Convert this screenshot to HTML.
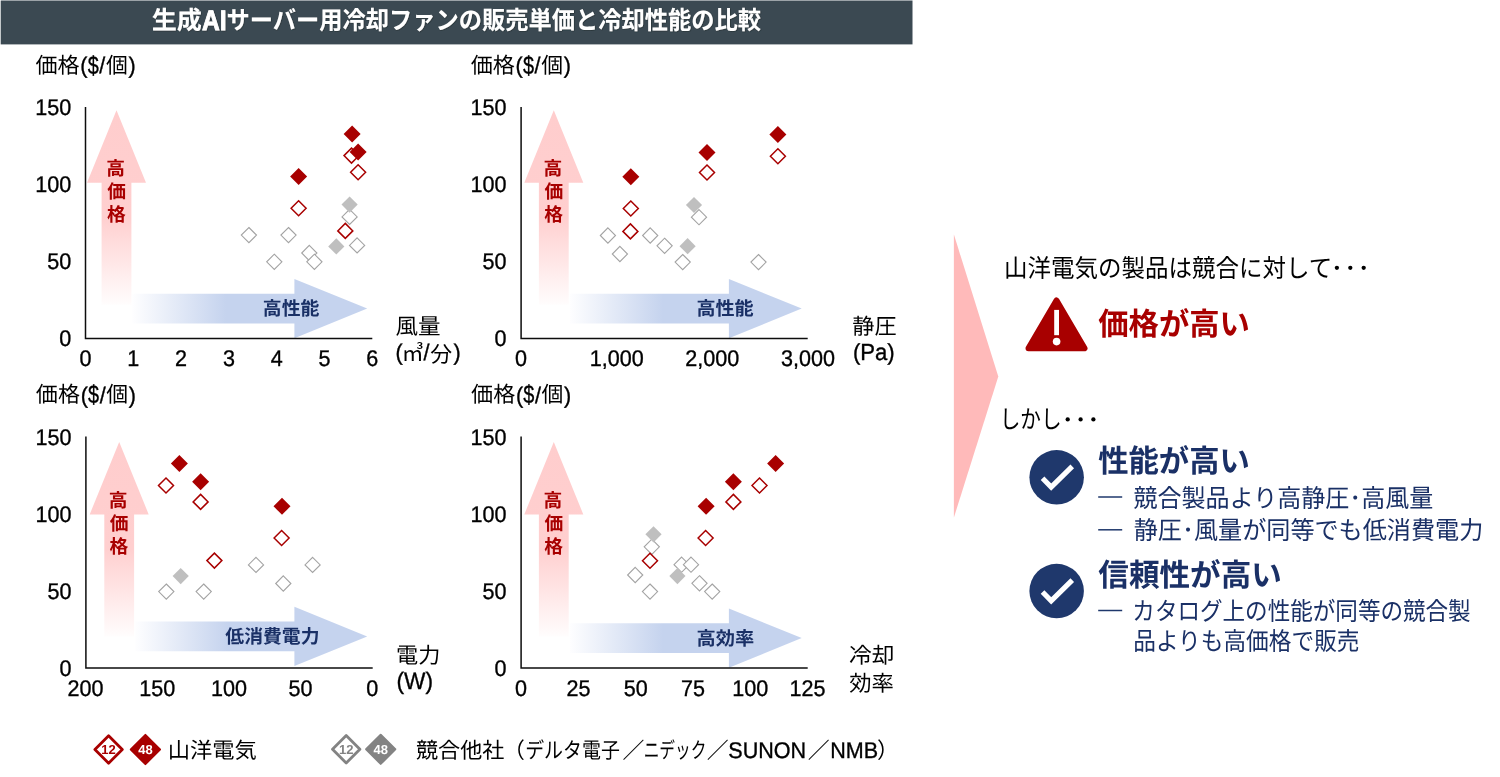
<!DOCTYPE html>
<html lang="ja"><head><meta charset="utf-8"><title>生成AIサーバー用冷却ファンの販売単価と冷却性能の比較</title>
<style>
html,body{margin:0;padding:0;background:#fff}
body{width:1500px;height:777px;overflow:hidden;font-family:"Liberation Sans","Noto Sans CJK JP",sans-serif}
svg{display:block;position:absolute;left:0;top:0;will-change:transform}
svg text{font-family:"Liberation Sans","Noto Sans CJK JP",sans-serif;white-space:pre;text-rendering:geometricPrecision}
</style></head><body>
<svg width="1500" height="777" viewBox="0 0 1500 777">
<defs>
<filter id="sh" x="-5%" y="-20%" width="110%" height="140%"><feDropShadow dx=".5" dy=".5" stdDeviation=".6" flood-color="#1c252c" flood-opacity=".9"/></filter>
<linearGradient id="gu1" gradientUnits="userSpaceOnUse" x1="0" y1="110.2" x2="0" y2="304.8"><stop offset="0" stop-color="#ffcdcd"/><stop offset=".55" stop-color="#ffcfcf"/><stop offset="1" stop-color="#fffdfd"/></linearGradient>
<linearGradient id="gu2" gradientUnits="userSpaceOnUse" x1="0" y1="110.2" x2="0" y2="304.8"><stop offset="0" stop-color="#ffcdcd"/><stop offset=".55" stop-color="#ffcfcf"/><stop offset="1" stop-color="#fffdfd"/></linearGradient>
<linearGradient id="gu3" gradientUnits="userSpaceOnUse" x1="0" y1="441.9" x2="0" y2="636.5"><stop offset="0" stop-color="#ffcdcd"/><stop offset=".55" stop-color="#ffcfcf"/><stop offset="1" stop-color="#fffdfd"/></linearGradient>
<linearGradient id="gu4" gradientUnits="userSpaceOnUse" x1="0" y1="441.9" x2="0" y2="636.5"><stop offset="0" stop-color="#ffcdcd"/><stop offset=".55" stop-color="#ffcfcf"/><stop offset="1" stop-color="#fffdfd"/></linearGradient>
<linearGradient id="gr1" gradientUnits="userSpaceOnUse" x1="132.4" y1="0" x2="226" y2="0"><stop offset="0" stop-color="#fefeff"/><stop offset="1" stop-color="#c5d3ee"/></linearGradient>
<linearGradient id="gr2" gradientUnits="userSpaceOnUse" x1="569.6" y1="0" x2="663" y2="0"><stop offset="0" stop-color="#fefeff"/><stop offset="1" stop-color="#c5d3ee"/></linearGradient>
<linearGradient id="gr3" gradientUnits="userSpaceOnUse" x1="135.1" y1="0" x2="228" y2="0"><stop offset="0" stop-color="#fefeff"/><stop offset="1" stop-color="#c5d3ee"/></linearGradient>
<linearGradient id="gr4" gradientUnits="userSpaceOnUse" x1="569.6" y1="0" x2="663" y2="0"><stop offset="0" stop-color="#fefeff"/><stop offset="1" stop-color="#c5d3ee"/></linearGradient>
</defs>
<rect x="0.7" y="0.5" width="911.8" height="43.9" fill="#3b4952"/>
<g filter="url(#sh)">
<g fill="#fff">
<text x="151.65" y="29.41" font-size="25" font-weight="bold" textLength="50.2" lengthAdjust="spacingAndGlyphs">生成</text>
<text x="232.17 252.54" y="29.81" font-size="28.2" font-weight="bold" transform="scale(0.87 1)" stroke="#fff" stroke-width="0.9">AI</text>
<text x="226.52" y="29.41" font-size="25" font-weight="bold" textLength="534.5" lengthAdjust="spacingAndGlyphs">サーバー用冷却ファンの販売単価と冷却性能の比較</text>
</g>
</g>
<path d="M116.5 110.2L146 182.7H131.4V304.8H101.6V182.7H87z" fill="url(#gu1)"/>
<path d="M132.4 293.8H294.4V278.9L367.2 308.6L294.4 338.3V323.4H132.4z" fill="url(#gr1)"/>
<path d="M85.5 107.1V338.4H372.3" fill="none" stroke="#0d0d0d" stroke-width="1.5"/>
<text transform="translate(71.2 115) scale(0.95 1)" font-size="22.7" fill="#000" text-anchor="end" stroke="#000" stroke-width=".35">150</text>
<text transform="translate(71.2 192.1) scale(0.95 1)" font-size="22.7" fill="#000" text-anchor="end" stroke="#000" stroke-width=".35">100</text>
<text transform="translate(71.2 269.2) scale(0.95 1)" font-size="22.7" fill="#000" text-anchor="end" stroke="#000" stroke-width=".35">50</text>
<text transform="translate(71.2 346.3) scale(0.95 1)" font-size="22.7" fill="#000" text-anchor="end" stroke="#000" stroke-width=".35">0</text>
<text transform="translate(85.5 366) scale(0.95 1)" font-size="22.7" fill="#000" text-anchor="middle" stroke="#000" stroke-width=".35">0</text>
<text transform="translate(133.3 366) scale(0.95 1)" font-size="22.7" fill="#000" text-anchor="middle" stroke="#000" stroke-width=".35">1</text>
<text transform="translate(181.1 366) scale(0.95 1)" font-size="22.7" fill="#000" text-anchor="middle" stroke="#000" stroke-width=".35">2</text>
<text transform="translate(228.9 366) scale(0.95 1)" font-size="22.7" fill="#000" text-anchor="middle" stroke="#000" stroke-width=".35">3</text>
<text transform="translate(276.7 366) scale(0.95 1)" font-size="22.7" fill="#000" text-anchor="middle" stroke="#000" stroke-width=".35">4</text>
<text transform="translate(324.5 366) scale(0.95 1)" font-size="22.7" fill="#000" text-anchor="middle" stroke="#000" stroke-width=".35">5</text>
<text transform="translate(372.3 366) scale(0.95 1)" font-size="22.7" fill="#000" text-anchor="middle" stroke="#000" stroke-width=".35">6</text>
<path d="M248.9 227.5l7.6 7.6l-7.6 7.6l-7.6 -7.6z" fill="#fff" stroke="#a3a3a3" stroke-width="1.1"/>
<path d="M288.5 227.5l7.6 7.6l-7.6 7.6l-7.6 -7.6z" fill="#fff" stroke="#a3a3a3" stroke-width="1.1"/>
<path d="M274.3 254.2l7.6 7.6l-7.6 7.6l-7.6 -7.6z" fill="#fff" stroke="#a3a3a3" stroke-width="1.1"/>
<path d="M309.3 245.4l7.6 7.6l-7.6 7.6l-7.6 -7.6z" fill="#fff" stroke="#a3a3a3" stroke-width="1.1"/>
<path d="M314.4 254.2l7.6 7.6l-7.6 7.6l-7.6 -7.6z" fill="#fff" stroke="#a3a3a3" stroke-width="1.1"/>
<path d="M357.1 237.8l7.6 7.6l-7.6 7.6l-7.6 -7.6z" fill="#fff" stroke="#a3a3a3" stroke-width="1.1"/>
<path d="M349.6 209.3l7.6 7.6l-7.6 7.6l-7.6 -7.6z" fill="#fff" stroke="#a3a3a3" stroke-width="1.1"/>
<path d="M349.6 196.5l8.1 8.1l-8.1 8.1l-8.1 -8.1z" fill="#bfbfbf"/>
<path d="M336.3 238.3l8.1 8.1l-8.1 8.1l-8.1 -8.1z" fill="#bfbfbf"/>
<path d="M345.3 223.4l7.5 7.5l-7.5 7.5l-7.5 -7.5z" fill="#fff" stroke="#a80000" stroke-width="1.5"/>
<path d="M298.6 200.8l7.5 7.5l-7.5 7.5l-7.5 -7.5z" fill="#fff" stroke="#a80000" stroke-width="1.5"/>
<path d="M358.1 164.8l7.5 7.5l-7.5 7.5l-7.5 -7.5z" fill="#fff" stroke="#a80000" stroke-width="1.5"/>
<path d="M351.5 148.1l7.5 7.5l-7.5 7.5l-7.5 -7.5z" fill="#fff" stroke="#a80000" stroke-width="1.5"/>
<path d="M298.6 168l8.5 8.5l-8.5 8.5l-8.5 -8.5z" fill="#a80000"/>
<path d="M358.1 143.6l8.5 8.5l-8.5 8.5l-8.5 -8.5z" fill="#a80000"/>
<path d="M352.1 125.4l8.5 8.5l-8.5 8.5l-8.5 -8.5z" fill="#a80000"/>
<g fill="#a80000">
<text x="106.26" y="175.21" font-size="18.75" font-weight="bold">高</text>
</g>
<g fill="#a80000">
<text x="107.17" y="198.21" font-size="18.75" font-weight="bold">価</text>
</g>
<g fill="#a80000">
<text x="107.01" y="220.71" font-size="18.75" font-weight="bold">格</text>
</g>
<g fill="#1a3066">
<text x="262.86" y="315.11" font-size="18.75" font-weight="bold" textLength="56.55" lengthAdjust="spacingAndGlyphs">高性能</text>
</g>
<path d="M553.8 110.2L583.3 182.7H568.7V304.8H538.9V182.7H524.3z" fill="url(#gu2)"/>
<path d="M569.6 293.8H728.9V278.9L801.7 308.6L728.9 338.3V323.4H569.6z" fill="url(#gr2)"/>
<path d="M521.1 107.1V338.4H807.7" fill="none" stroke="#0d0d0d" stroke-width="1.5"/>
<text transform="translate(506.5 115) scale(0.95 1)" font-size="22.7" fill="#000" text-anchor="end" stroke="#000" stroke-width=".35">150</text>
<text transform="translate(506.5 192.1) scale(0.95 1)" font-size="22.7" fill="#000" text-anchor="end" stroke="#000" stroke-width=".35">100</text>
<text transform="translate(506.5 269.2) scale(0.95 1)" font-size="22.7" fill="#000" text-anchor="end" stroke="#000" stroke-width=".35">50</text>
<text transform="translate(506.5 346.3) scale(0.95 1)" font-size="22.7" fill="#000" text-anchor="end" stroke="#000" stroke-width=".35">0</text>
<text transform="translate(521.1 366) scale(0.95 1)" font-size="22.7" fill="#000" text-anchor="middle" stroke="#000" stroke-width=".35">0</text>
<text transform="translate(616.7 366) scale(0.95 1)" font-size="22.7" fill="#000" text-anchor="middle" stroke="#000" stroke-width=".35">1,000</text>
<text transform="translate(712.3 366) scale(0.95 1)" font-size="22.7" fill="#000" text-anchor="middle" stroke="#000" stroke-width=".35">2,000</text>
<text transform="translate(807.9 366) scale(0.95 1)" font-size="22.7" fill="#000" text-anchor="middle" stroke="#000" stroke-width=".35">3,000</text>
<path d="M607.9 227.9l7.6 7.6l-7.6 7.6l-7.6 -7.6z" fill="#fff" stroke="#a3a3a3" stroke-width="1.1"/>
<path d="M650.2 227.9l7.6 7.6l-7.6 7.6l-7.6 -7.6z" fill="#fff" stroke="#a3a3a3" stroke-width="1.1"/>
<path d="M664.6 238.2l7.6 7.6l-7.6 7.6l-7.6 -7.6z" fill="#fff" stroke="#a3a3a3" stroke-width="1.1"/>
<path d="M619.9 246.4l7.6 7.6l-7.6 7.6l-7.6 -7.6z" fill="#fff" stroke="#a3a3a3" stroke-width="1.1"/>
<path d="M682.7 254.5l7.6 7.6l-7.6 7.6l-7.6 -7.6z" fill="#fff" stroke="#a3a3a3" stroke-width="1.1"/>
<path d="M758.5 254.5l7.6 7.6l-7.6 7.6l-7.6 -7.6z" fill="#fff" stroke="#a3a3a3" stroke-width="1.1"/>
<path d="M694 196.9l8.1 8.1l-8.1 8.1l-8.1 -8.1z" fill="#bfbfbf"/>
<path d="M699 209.6l7.6 7.6l-7.6 7.6l-7.6 -7.6z" fill="#fff" stroke="#a3a3a3" stroke-width="1.1"/>
<path d="M687.6 238.1l8.1 8.1l-8.1 8.1l-8.1 -8.1z" fill="#bfbfbf"/>
<path d="M630.4 223.9l7.5 7.5l-7.5 7.5l-7.5 -7.5z" fill="#fff" stroke="#a80000" stroke-width="1.5"/>
<path d="M630.8 201l7.5 7.5l-7.5 7.5l-7.5 -7.5z" fill="#fff" stroke="#a80000" stroke-width="1.5"/>
<path d="M707 165l7.5 7.5l-7.5 7.5l-7.5 -7.5z" fill="#fff" stroke="#a80000" stroke-width="1.5"/>
<path d="M777.9 148.7l7.5 7.5l-7.5 7.5l-7.5 -7.5z" fill="#fff" stroke="#a80000" stroke-width="1.5"/>
<path d="M630.8 168.3l8.5 8.5l-8.5 8.5l-8.5 -8.5z" fill="#a80000"/>
<path d="M707 144l8.5 8.5l-8.5 8.5l-8.5 -8.5z" fill="#a80000"/>
<path d="M777.9 125.9l8.5 8.5l-8.5 8.5l-8.5 -8.5z" fill="#a80000"/>
<g fill="#a80000">
<text x="543.56" y="175.21" font-size="18.75" font-weight="bold">高</text>
</g>
<g fill="#a80000">
<text x="544.48" y="198.21" font-size="18.75" font-weight="bold">価</text>
</g>
<g fill="#a80000">
<text x="544.31" y="220.71" font-size="18.75" font-weight="bold">格</text>
</g>
<g fill="#1a3066">
<text x="696.46" y="315.11" font-size="18.75" font-weight="bold" textLength="57.25" lengthAdjust="spacingAndGlyphs">高性能</text>
</g>
<path d="M119.2 441.9L148.7 514.4H134.1V636.5H104.3V514.4H89.7z" fill="url(#gu3)"/>
<path d="M135.1 621.6H294.4V606.7L367.2 636.4L294.4 666.1V651.2H135.1z" fill="url(#gr3)"/>
<path d="M85.9 436.6V667.9H372.7" fill="none" stroke="#0d0d0d" stroke-width="1.5"/>
<text transform="translate(71.4 444.5) scale(0.95 1)" font-size="22.7" fill="#000" text-anchor="end" stroke="#000" stroke-width=".35">150</text>
<text transform="translate(71.4 521.6) scale(0.95 1)" font-size="22.7" fill="#000" text-anchor="end" stroke="#000" stroke-width=".35">100</text>
<text transform="translate(71.4 598.7) scale(0.95 1)" font-size="22.7" fill="#000" text-anchor="end" stroke="#000" stroke-width=".35">50</text>
<text transform="translate(71.4 675.8) scale(0.95 1)" font-size="22.7" fill="#000" text-anchor="end" stroke="#000" stroke-width=".35">0</text>
<text transform="translate(85.5 696.4) scale(0.95 1)" font-size="22.7" fill="#000" text-anchor="middle" stroke="#000" stroke-width=".35">200</text>
<text transform="translate(157.2 696.4) scale(0.95 1)" font-size="22.7" fill="#000" text-anchor="middle" stroke="#000" stroke-width=".35">150</text>
<text transform="translate(228.9 696.4) scale(0.95 1)" font-size="22.7" fill="#000" text-anchor="middle" stroke="#000" stroke-width=".35">100</text>
<text transform="translate(300.6 696.4) scale(0.95 1)" font-size="22.7" fill="#000" text-anchor="middle" stroke="#000" stroke-width=".35">50</text>
<text transform="translate(372.3 696.4) scale(0.95 1)" font-size="22.7" fill="#000" text-anchor="middle" stroke="#000" stroke-width=".35">0</text>
<path d="M256 557.3l7.6 7.6l-7.6 7.6l-7.6 -7.6z" fill="#fff" stroke="#a3a3a3" stroke-width="1.1"/>
<path d="M312.6 557.3l7.6 7.6l-7.6 7.6l-7.6 -7.6z" fill="#fff" stroke="#a3a3a3" stroke-width="1.1"/>
<path d="M283.3 575.9l7.6 7.6l-7.6 7.6l-7.6 -7.6z" fill="#fff" stroke="#a3a3a3" stroke-width="1.1"/>
<path d="M166.3 584l7.6 7.6l-7.6 7.6l-7.6 -7.6z" fill="#fff" stroke="#a3a3a3" stroke-width="1.1"/>
<path d="M203.7 584l7.6 7.6l-7.6 7.6l-7.6 -7.6z" fill="#fff" stroke="#a3a3a3" stroke-width="1.1"/>
<path d="M180.7 568l8.1 8.1l-8.1 8.1l-8.1 -8.1z" fill="#bfbfbf"/>
<path d="M214.4 553.1l7.5 7.5l-7.5 7.5l-7.5 -7.5z" fill="#fff" stroke="#a80000" stroke-width="1.5"/>
<path d="M281.6 530.5l7.5 7.5l-7.5 7.5l-7.5 -7.5z" fill="#fff" stroke="#a80000" stroke-width="1.5"/>
<path d="M200.6 494.4l7.5 7.5l-7.5 7.5l-7.5 -7.5z" fill="#fff" stroke="#a80000" stroke-width="1.5"/>
<path d="M166 478l7.5 7.5l-7.5 7.5l-7.5 -7.5z" fill="#fff" stroke="#a80000" stroke-width="1.5"/>
<path d="M282 497.8l8.5 8.5l-8.5 8.5l-8.5 -8.5z" fill="#a80000"/>
<path d="M200.6 473.3l8.5 8.5l-8.5 8.5l-8.5 -8.5z" fill="#a80000"/>
<path d="M179.4 454.9l8.5 8.5l-8.5 8.5l-8.5 -8.5z" fill="#a80000"/>
<g fill="#a80000">
<text x="108.86" y="507.01" font-size="18.75" font-weight="bold">高</text>
</g>
<g fill="#a80000">
<text x="109.78" y="530.01" font-size="18.75" font-weight="bold">価</text>
</g>
<g fill="#a80000">
<text x="109.61" y="552.51" font-size="18.75" font-weight="bold">格</text>
</g>
<g fill="#1a3066">
<text x="225.33" y="642.91" font-size="18.75" font-weight="bold" textLength="94.13" lengthAdjust="spacingAndGlyphs">低消費電力</text>
</g>
<path d="M553.8 441.9L583.3 514.4H568.7V636.5H538.9V514.4H524.3z" fill="url(#gu4)"/>
<path d="M569.6 623.3H728.9V608.4L801.7 638.1L728.9 667.8V652.9H569.6z" fill="url(#gr4)"/>
<path d="M521.1 436.6V667.9H807.7" fill="none" stroke="#0d0d0d" stroke-width="1.5"/>
<text transform="translate(506.5 444.5) scale(0.95 1)" font-size="22.7" fill="#000" text-anchor="end" stroke="#000" stroke-width=".35">150</text>
<text transform="translate(506.5 521.6) scale(0.95 1)" font-size="22.7" fill="#000" text-anchor="end" stroke="#000" stroke-width=".35">100</text>
<text transform="translate(506.5 598.7) scale(0.95 1)" font-size="22.7" fill="#000" text-anchor="end" stroke="#000" stroke-width=".35">50</text>
<text transform="translate(506.5 675.8) scale(0.95 1)" font-size="22.7" fill="#000" text-anchor="end" stroke="#000" stroke-width=".35">0</text>
<text transform="translate(521.1 696.4) scale(0.95 1)" font-size="22.7" fill="#000" text-anchor="middle" stroke="#000" stroke-width=".35">0</text>
<text transform="translate(578.4 696.4) scale(0.95 1)" font-size="22.7" fill="#000" text-anchor="middle" stroke="#000" stroke-width=".35">25</text>
<text transform="translate(635.7 696.4) scale(0.95 1)" font-size="22.7" fill="#000" text-anchor="middle" stroke="#000" stroke-width=".35">50</text>
<text transform="translate(693 696.4) scale(0.95 1)" font-size="22.7" fill="#000" text-anchor="middle" stroke="#000" stroke-width=".35">75</text>
<text transform="translate(750.3 696.4) scale(0.95 1)" font-size="22.7" fill="#000" text-anchor="middle" stroke="#000" stroke-width=".35">100</text>
<text transform="translate(807.6 696.4) scale(0.95 1)" font-size="22.7" fill="#000" text-anchor="middle" stroke="#000" stroke-width=".35">125</text>
<path d="M651.8 539.2l7.6 7.6l-7.6 7.6l-7.6 -7.6z" fill="#fff" stroke="#a3a3a3" stroke-width="1.1"/>
<path d="M653.5 526.2l8.1 8.1l-8.1 8.1l-8.1 -8.1z" fill="#bfbfbf"/>
<path d="M681.6 557.1l7.6 7.6l-7.6 7.6l-7.6 -7.6z" fill="#fff" stroke="#a3a3a3" stroke-width="1.1"/>
<path d="M691 557.1l7.6 7.6l-7.6 7.6l-7.6 -7.6z" fill="#fff" stroke="#a3a3a3" stroke-width="1.1"/>
<path d="M635.2 567.4l7.6 7.6l-7.6 7.6l-7.6 -7.6z" fill="#fff" stroke="#a3a3a3" stroke-width="1.1"/>
<path d="M699.5 575.7l7.6 7.6l-7.6 7.6l-7.6 -7.6z" fill="#fff" stroke="#a3a3a3" stroke-width="1.1"/>
<path d="M650 584l7.6 7.6l-7.6 7.6l-7.6 -7.6z" fill="#fff" stroke="#a3a3a3" stroke-width="1.1"/>
<path d="M712.2 584l7.6 7.6l-7.6 7.6l-7.6 -7.6z" fill="#fff" stroke="#a3a3a3" stroke-width="1.1"/>
<path d="M677.4 568l8.1 8.1l-8.1 8.1l-8.1 -8.1z" fill="#bfbfbf"/>
<path d="M650 553.3l7.5 7.5l-7.5 7.5l-7.5 -7.5z" fill="#fff" stroke="#a80000" stroke-width="1.5"/>
<path d="M705.6 530.5l7.5 7.5l-7.5 7.5l-7.5 -7.5z" fill="#fff" stroke="#a80000" stroke-width="1.5"/>
<path d="M733.4 494.4l7.5 7.5l-7.5 7.5l-7.5 -7.5z" fill="#fff" stroke="#a80000" stroke-width="1.5"/>
<path d="M759.5 478l7.5 7.5l-7.5 7.5l-7.5 -7.5z" fill="#fff" stroke="#a80000" stroke-width="1.5"/>
<path d="M706.1 497.8l8.5 8.5l-8.5 8.5l-8.5 -8.5z" fill="#a80000"/>
<path d="M733.4 473.3l8.5 8.5l-8.5 8.5l-8.5 -8.5z" fill="#a80000"/>
<path d="M775.6 454.9l8.5 8.5l-8.5 8.5l-8.5 -8.5z" fill="#a80000"/>
<g fill="#a80000">
<text x="543.56" y="507.01" font-size="18.75" font-weight="bold">高</text>
</g>
<g fill="#a80000">
<text x="544.48" y="530.01" font-size="18.75" font-weight="bold">価</text>
</g>
<g fill="#a80000">
<text x="544.31" y="552.51" font-size="18.75" font-weight="bold">格</text>
</g>
<g fill="#1a3066">
<text x="696.46" y="645.11" font-size="18.75" font-weight="bold" textLength="57.67" lengthAdjust="spacingAndGlyphs">高効率</text>
</g>
<g fill="#000">
<text x="35.48" y="72.78" font-size="21.88" textLength="44.14" lengthAdjust="spacingAndGlyphs">価格</text>
</g>
<text transform="translate(80.3 73.1) scale(0.95 1)" font-size="22.7" fill="#000" stroke="#000" stroke-width=".35">(</text>
<text transform="translate(87.7 73.6) scale(0.78 1)" font-size="25.5" fill="#000" stroke="#000" stroke-width=".35">$</text>
<text transform="translate(99.3 73.1) scale(0.95 1)" font-size="22.7" fill="#000" stroke="#000" stroke-width=".35">/</text>
<g fill="#000">
<text x="105.93" y="72.78" font-size="21.88">個</text>
</g>
<text transform="translate(128.4 73.1) scale(0.95 1)" font-size="22.7" fill="#000" stroke="#000" stroke-width=".35">)</text>
<g fill="#000">
<text x="470.78" y="72.78" font-size="21.88" textLength="44.14" lengthAdjust="spacingAndGlyphs">価格</text>
</g>
<text transform="translate(515.6 73.1) scale(0.95 1)" font-size="22.7" fill="#000" stroke="#000" stroke-width=".35">(</text>
<text transform="translate(523 73.6) scale(0.78 1)" font-size="25.5" fill="#000" stroke="#000" stroke-width=".35">$</text>
<text transform="translate(534.6 73.1) scale(0.95 1)" font-size="22.7" fill="#000" stroke="#000" stroke-width=".35">/</text>
<g fill="#000">
<text x="541.23" y="72.78" font-size="21.88">個</text>
</g>
<text transform="translate(563.7 73.1) scale(0.95 1)" font-size="22.7" fill="#000" stroke="#000" stroke-width=".35">)</text>
<g fill="#000">
<text x="35.88" y="402.28" font-size="21.88" textLength="44.14" lengthAdjust="spacingAndGlyphs">価格</text>
</g>
<text transform="translate(80.7 402.6) scale(0.95 1)" font-size="22.7" fill="#000" stroke="#000" stroke-width=".35">(</text>
<text transform="translate(88.1 403.1) scale(0.78 1)" font-size="25.5" fill="#000" stroke="#000" stroke-width=".35">$</text>
<text transform="translate(99.7 402.6) scale(0.95 1)" font-size="22.7" fill="#000" stroke="#000" stroke-width=".35">/</text>
<g fill="#000">
<text x="106.33" y="402.28" font-size="21.88">個</text>
</g>
<text transform="translate(128.8 402.6) scale(0.95 1)" font-size="22.7" fill="#000" stroke="#000" stroke-width=".35">)</text>
<g fill="#000">
<text x="471.08" y="402.28" font-size="21.88" textLength="44.14" lengthAdjust="spacingAndGlyphs">価格</text>
</g>
<text transform="translate(515.9 402.6) scale(0.95 1)" font-size="22.7" fill="#000" stroke="#000" stroke-width=".35">(</text>
<text transform="translate(523.3 403.1) scale(0.78 1)" font-size="25.5" fill="#000" stroke="#000" stroke-width=".35">$</text>
<text transform="translate(534.9 402.6) scale(0.95 1)" font-size="22.7" fill="#000" stroke="#000" stroke-width=".35">/</text>
<g fill="#000">
<text x="541.53" y="402.28" font-size="21.88">個</text>
</g>
<text transform="translate(564 402.6) scale(0.95 1)" font-size="22.7" fill="#000" stroke="#000" stroke-width=".35">)</text>
<g fill="#000">
<text x="395.43" y="333.78" font-size="21.88" textLength="45.16" lengthAdjust="spacingAndGlyphs">風量</text>
</g>
<text transform="translate(395.5 360) scale(0.95 1)" font-size="22.7" fill="#000" stroke="#000" stroke-width=".35">(</text>
<g fill="#000">
<text x="401.8" y="361.08" font-size="21.88">㎥</text>
</g>
<text transform="translate(423.5 360) scale(0.95 1)" font-size="22.7" fill="#000" stroke="#000" stroke-width=".35">/</text>
<g fill="#000">
<text x="430.3" y="361.58" font-size="21.88">分</text>
</g>
<text transform="translate(453.5 360) scale(0.95 1)" font-size="22.7" fill="#000" stroke="#000" stroke-width=".35">)</text>
<g fill="#000">
<text x="852.3" y="334.18" font-size="21.88" textLength="44.39" lengthAdjust="spacingAndGlyphs">静圧</text>
</g>
<text transform="translate(852.9 359.8) scale(0.95 1)" font-size="23.3" fill="#000" stroke="#000" stroke-width=".35">(Pa)</text>
<g fill="#000">
<text x="396.14" y="663.18" font-size="21.88" textLength="44.29" lengthAdjust="spacingAndGlyphs">電力</text>
</g>
<text transform="translate(396.4 688.9) scale(0.95 1)" font-size="23.9" fill="#000" stroke="#000" stroke-width=".35">(W)</text>
<g fill="#000">
<text x="849.03" y="663.38" font-size="21.88" textLength="45.49" lengthAdjust="spacingAndGlyphs">冷却</text>
</g>
<g fill="#000">
<text x="849.21" y="690.68" font-size="21.88" textLength="44.63" lengthAdjust="spacingAndGlyphs">効率</text>
</g>
<path d="M108.6 735.8l13.7 13.7l-13.7 13.7l-13.7 -13.7z" fill="#fff" stroke="#a80000" stroke-width="2.8" stroke-linejoin="round"/>
<text transform="translate(108.6 754.1) scale(1 1)" font-size="13" fill="#a80000" text-anchor="middle" font-weight="bold">12</text>
<path d="M145.4 734.9l14.6 14.6l-14.6 14.6l-14.6 -14.6z" fill="#a80000" stroke="#a80000" stroke-width="2" stroke-linejoin="round"/>
<text transform="translate(145.4 754.1) scale(1 1)" font-size="13" fill="#fff" text-anchor="middle" font-weight="bold">48</text>
<g fill="#000">
<text x="167.7" y="757.78" font-size="21.88" textLength="89.08" lengthAdjust="spacingAndGlyphs">山洋電気</text>
</g>
<path d="M346.2 735.6l13.7 13.7l-13.7 13.7l-13.7 -13.7z" fill="#fff" stroke="#838383" stroke-width="2.8" stroke-linejoin="round"/>
<text transform="translate(346.2 753.9) scale(1 1)" font-size="13" fill="#838383" text-anchor="middle" font-weight="bold">12</text>
<path d="M380.7 734.7l14.6 14.6l-14.6 14.6l-14.6 -14.6z" fill="#838383" stroke="#838383" stroke-width="2" stroke-linejoin="round"/>
<text transform="translate(380.7 753.9) scale(1 1)" font-size="13" fill="#fff" text-anchor="middle" font-weight="bold">48</text>
<g fill="#000">
<text x="416.03" y="757.68" font-size="21.88" textLength="88.32" lengthAdjust="spacingAndGlyphs">競合他社</text>
</g>
<g fill="#000">
<text x="502.9" y="757.68" font-size="21.88">（</text>
</g>
<g fill="#000">
<text x="525.18" y="757.68" font-size="21.88" textLength="94.65" lengthAdjust="spacingAndGlyphs">デルタ電子</text>
</g>
<g fill="#000">
<text x="622.46" y="757.68" font-size="21.88">／</text>
</g>
<g fill="#000">
<text x="643.69" y="757.68" font-size="21.88" textLength="62.71" lengthAdjust="spacingAndGlyphs">ニデック</text>
</g>
<g fill="#000">
<text x="706.76" y="757.68" font-size="21.88">／</text>
</g>
<text transform="translate(728.3 757.5) scale(0.95 1)" font-size="22.7" fill="#000" stroke="#000" stroke-width=".35">SUNON</text>
<g fill="#000">
<text x="807.76" y="757.68" font-size="21.88">／</text>
</g>
<text transform="translate(830.3 757.5) scale(0.95 1)" font-size="22.7" fill="#000" stroke="#000" stroke-width=".35">NMB</text>
<g fill="#000">
<text x="877.09" y="757.68" font-size="21.88">）</text>
</g>
<path d="M953.9 234.6L998.3 376.4L953.9 517.5z" fill="#ffbaba"/>
<g fill="#000">
<text x="1004.08" y="276.84" font-size="25" textLength="328.25" lengthAdjust="spacingAndGlyphs">山洋電気の製品は競合に対して</text>
</g>
<circle cx="1336.9" cy="267.8" r="2.15"/>
<circle cx="1350.3" cy="267.8" r="2.15"/>
<circle cx="1363.7" cy="267.8" r="2.15"/>
<path d="M1056.5 300.5L1084.5 348.3H1028.5z" fill="#a80000" stroke="#a80000" stroke-width="6" stroke-linejoin="round"/>
<rect x="1054.2" y="309.9" width="4.8" height="25.3" fill="#fff"/>
<circle cx="1056.6" cy="341.6" r="3.8" fill="#fff"/>
<g fill="#a80000">
<text x="1098.22" y="335.11" font-size="31.25" font-weight="bold" textLength="151.72" lengthAdjust="spacingAndGlyphs">価格が高い</text>
</g>
<g fill="#000">
<text x="999.69" y="427.84" font-size="25" textLength="61.95" lengthAdjust="spacingAndGlyphs">しかし</text>
</g>
<circle cx="1067.7" cy="419.4" r="2.15"/>
<circle cx="1080.6" cy="419.4" r="2.15"/>
<circle cx="1093.4" cy="419.4" r="2.15"/>
<circle cx="1056.65" cy="477.35" r="27.25" fill="#1f386c"/>
<path d="M1042.55 478.3L1051.2 487.15L1072.25 466.35" fill="none" stroke="#fff" stroke-width="5.1"/>
<g fill="#1a3066">
<text x="1098.2" y="472.31" font-size="31.25" font-weight="bold" textLength="151.64" lengthAdjust="spacingAndGlyphs">性能が高い</text>
</g>
<path d="M1098.2 497H1122.2" stroke="#1f386c" stroke-width="1.5"/>
<g fill="#1a3066">
<text x="1133.55" y="506.54" font-size="25" textLength="299.78" lengthAdjust="spacingAndGlyphs">競合製品より高静圧･高風量</text>
</g>
<path d="M1098.2 529.8H1122.2" stroke="#1f386c" stroke-width="1.5"/>
<g fill="#1a3066">
<text x="1133.67" y="538.54" font-size="25" textLength="349.66" lengthAdjust="spacingAndGlyphs">静圧･風量が同等でも低消費電力</text>
</g>
<circle cx="1056.65" cy="591.1" r="27.25" fill="#1f386c"/>
<path d="M1042.55 592.05L1051.2 600.9L1072.25 580.1" fill="none" stroke="#fff" stroke-width="5.1"/>
<g fill="#1a3066">
<text x="1098.33" y="585.61" font-size="31.25" font-weight="bold" textLength="183.51" lengthAdjust="spacingAndGlyphs">信頼性が高い</text>
</g>
<path d="M1098.2 610.5H1122.2" stroke="#1f386c" stroke-width="1.5"/>
<g fill="#1a3066">
<text x="1132.36" y="619.94" font-size="25" textLength="338.29" lengthAdjust="spacingAndGlyphs">カタログ上の性能が同等の競合製</text>
</g>
<g fill="#1a3066">
<text x="1133.22" y="650.24" font-size="25" textLength="226.26" lengthAdjust="spacingAndGlyphs">品よりも高価格で販売</text>
</g>
</svg>
</body></html>
